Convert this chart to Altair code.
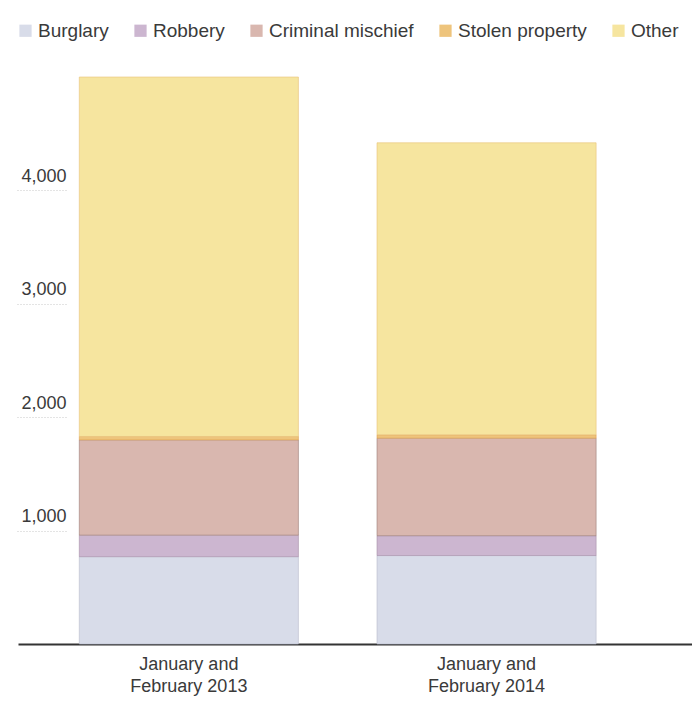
import altair as alt
import pandas as pd

periods = ["January and|February 2013", "January and|February 2014"]
categories = ["Burglary", "Robbery", "Criminal mischief", "Stolen property", "Other"]
values_2013 = [770, 190, 840, 30, 3170]
values_2014 = [780, 175, 860, 30, 2575]
colors = ["#d8dce9", "#ccb6d0", "#d9b7af", "#eec47c", "#f6e59f"]
strokes = ["#b9bccc", "#a78fa8", "#9c7f78", "#e0a050", "#e8c27a"]
y_ticks = [1000, 2000, 3000, 4000]

rows = []
for p, vals in zip(periods, [values_2013, values_2014]):
    for i, (c, v) in enumerate(zip(categories, vals)):
        rows.append({"period": p, "category": c, "value": v, "order": i})
df = pd.DataFrame(rows)

font = "Liberation Sans"

chart = alt.Chart(df).mark_bar(strokeWidth=1, strokeOpacity=0.6).encode(
    x=alt.X("period:N", sort=periods, title=None,
            scale=alt.Scale(paddingInner=0.264, paddingOuter=0.264, align=0.39),
            axis=alt.Axis(labelExpr="split(datum.label, '|')", labelAngle=0,
                          ticks=False, labelPadding=11, labelFontSize=18,
                          labelColor="#3a3a3a", labelLineHeight=22,
                          domainColor="#333333", domainWidth=2, labelFont=font)),
    y=alt.Y("value:Q", stack="zero", title=None,
            scale=alt.Scale(domain=[0, 5000], nice=False),
            axis=alt.Axis(values=y_ticks, format=",.0f", grid=False, domain=False,
                          offset=-48, tickSize=50, tickDash=[1, 2], tickColor="#c8c8c8",
                          labelPadding=-50, labelOffset=-14, labelFontSize=18,
                          labelColor="#3a3a3a", labelFont=font)),
    color=alt.Color("category:N", sort=categories,
                    scale=alt.Scale(domain=categories, range=colors),
                    legend=alt.Legend(title=None, orient="none", direction="horizontal",
                                      legendX=-2, legendY=-56, symbolType="square",
                                      symbolSize=150, symbolStrokeWidth=0,
                                      labelFontSize=19, labelColor="#3a3a3a",
                                      labelFont=font, labelOffset=3, columnPadding=22,
                                      padding=0)),
    stroke=alt.Stroke("category:N", scale=alt.Scale(domain=categories, range=strokes),
                      legend=None),
    order=alt.Order("order:Q"),
).properties(
    width=674, height=567,
    autosize=alt.AutoSizeParams(type="none"),
    padding={"left": 10, "top": 69, "right": 0, "bottom": 52},
).configure_view(stroke=None)

chart.save("out.html", embed_options={"renderer": "svg", "actions": False})
